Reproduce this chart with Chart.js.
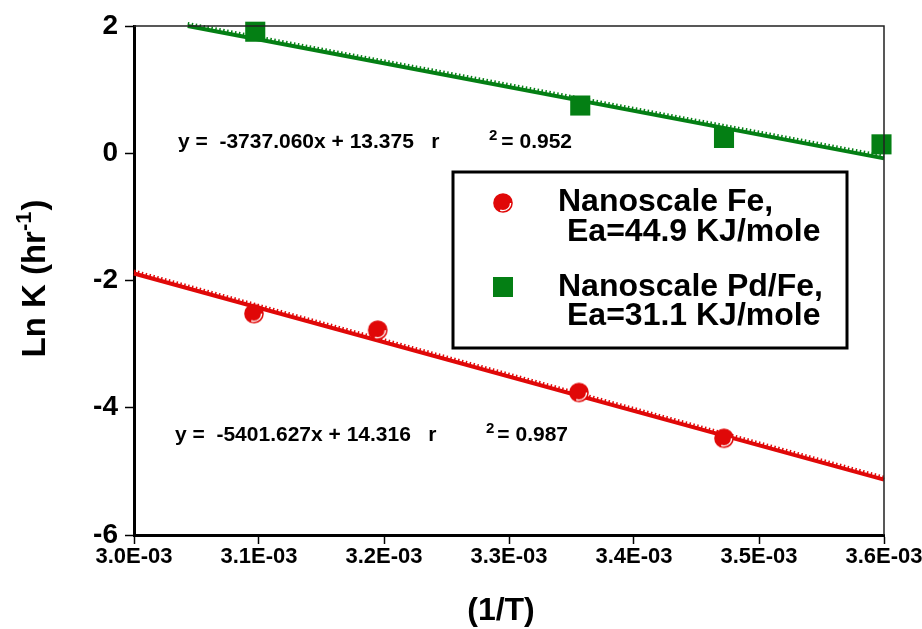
<!DOCTYPE html>
<html>
<head>
<meta charset="utf-8">
<script src="https://cdn.jsdelivr.net/npm/chart.js@4.4.1/dist/chart.umd.min.js"></script>
<style>
  html, body { margin: 0; padding: 0; background: #fff; }
  #wrap { width: 922px; height: 629px; }
</style>
</head>
<body>
<div id="wrap"><canvas id="arrhenius"></canvas></div>
<script>
// Arrhenius plot: ln k vs 1/T for nanoscale Fe and Pd/Fe
const seriesNames = ['Nanoscale Fe,', 'Nanoscale Pd/Fe,'];
const seriesNotes = ['Ea=44.9 KJ/mole', 'Ea=31.1 KJ/mole'];

const feX = [3.096e-3, 3.195e-3, 3.356e-3, 3.472e-3];
const feY = [-2.52, -2.78, -3.76, -4.48];
const pdX = [3.097e-3, 3.357e-3, 3.472e-3, 3.598e-3];
const pdY = [1.91, 0.75, 0.24, 0.14];

// fitted lines, end points
const feFitX = [3.0e-3, 3.6e-3];
const feFitY = [-1.89, -5.13];
const pdFitX = [3.043e-3, 3.6e-3];
const pdFitY = [2.0, -0.08];

const fitEquations = ['y =  -5401.627x + 14.316   r', 'y =  -3737.060x + 13.375   r'];
const fitR2 = ['= 0.987', '= 0.952'];

const xTickValues = [3.0e-3, 3.1e-3, 3.2e-3, 3.3e-3, 3.4e-3, 3.5e-3, 3.6e-3];
const xTickLabels = ['3.0E-03', '3.1E-03', '3.2E-03', '3.3E-03', '3.4E-03', '3.5E-03', '3.6E-03'];
const yTickValues = [-6, -4, -2, 0, 2];
const yTickLabels = ['-6', '-4', '-2', '0', '2'];

const xTitle = '(1/T)';
const yTitle = ['Ln K (hr', '-1', ')'];

const RED = '#e00808';
const GREEN = '#047f14';
const FONT = '"Liberation Sans", Arial, Helvetica, sans-serif';

const pts = (xs, ys) => xs.map((x, i) => ({ x: x, y: ys[i] }));

function makeDot(color) {
  const c = document.createElement('canvas');
  c.width = 22; c.height = 22;
  const g = c.getContext('2d');
  g.fillStyle = color;
  g.beginPath(); g.arc(11, 11, 9.8, 0, Math.PI * 2); g.fill();
  g.strokeStyle = '#fff'; g.lineWidth = 1.4;
  g.beginPath(); g.arc(11, 11, 7.6, 0.0 * Math.PI, 0.62 * Math.PI); g.stroke();
  return c;
}
const redDot = makeDot(RED);

// nudge the hatched overlay of each fit line up a little
const shiftPlugin = {
  id: 'shift',
  beforeDatasetDraw(chart, args) {
    const ds = chart.data.datasets[args.index];
    chart.ctx.save();
    if (ds.shiftUp) chart.ctx.translate(0, -ds.shiftUp);
  },
  afterDatasetDraw(chart) {
    chart.ctx.restore();
  }
};

const decorPlugin = {
  id: 'decor',
  afterDraw(chart) {
    const ctx = chart.ctx;
    const a = chart.chartArea;
    ctx.save();
    // thin top/right frame
    ctx.strokeStyle = '#222';
    ctx.lineWidth = 1.5;
    ctx.beginPath();
    ctx.moveTo(a.left, a.top);
    ctx.lineTo(a.right, a.top);
    ctx.lineTo(a.right, a.bottom);
    ctx.stroke();

    ctx.fillStyle = '#000';
    ctx.textBaseline = 'alphabetic';

    // fit equations
    const eqPos = [[175, 441, 486, 568], [178, 148, 489, 572]];
    fitEquations.forEach((t, i) => {
      const p = eqPos[i];
      ctx.font = 'bold 21px ' + FONT;
      ctx.textAlign = 'left';
      ctx.fillText(t, p[0], p[1]);
      ctx.textAlign = 'right';
      ctx.fillText(fitR2[i], p[3], p[1]);
      ctx.font = 'bold 15px ' + FONT;
      ctx.textAlign = 'left';
      ctx.fillText('2', p[2], p[1] - 8);
    });

    // legend box
    ctx.lineWidth = 3;
    ctx.strokeStyle = '#000';
    ctx.strokeRect(453, 172, 394, 176);
    ctx.drawImage(redDot, 503 - 11, 203 - 11);
    ctx.fillStyle = GREEN;
    ctx.fillRect(503 - 10, 287 - 10, 20, 20);
    ctx.fillStyle = '#000';
    ctx.font = 'bold 32px ' + FONT;
    ctx.textAlign = 'left';
    ctx.textBaseline = 'middle';
    ctx.fillText(seriesNames[0], 558, 202);
    ctx.fillText(seriesNotes[0], 567, 232);
    ctx.fillText(seriesNames[1], 558, 287);
    ctx.fillText(seriesNotes[1], 567, 316);

    // x title
    ctx.font = 'bold 32px ' + FONT;
    ctx.textAlign = 'center';
    ctx.fillText(xTitle, (a.left + a.right) / 2 - 8, 611);

    // y title, rotated, with superscript
    ctx.translate(36, 279);
    ctx.rotate(-Math.PI / 2);
    ctx.textAlign = 'left';
    ctx.font = 'bold 33px ' + FONT;
    const w0 = ctx.measureText(yTitle[0]).width;
    const w2 = ctx.measureText(yTitle[2]).width;
    ctx.font = 'bold 22px ' + FONT;
    const w1 = ctx.measureText(yTitle[1]).width;
    const x = -(w0 + w1 + w2) / 2;
    ctx.font = 'bold 33px ' + FONT;
    ctx.fillText(yTitle[0], x, 0);
    ctx.font = 'bold 22px ' + FONT;
    ctx.fillText(yTitle[1], x + w0, -11);
    ctx.font = 'bold 33px ' + FONT;
    ctx.fillText(yTitle[2], x + w0 + w1 + 1, 0);
    ctx.restore();
  }
};

new Chart(document.getElementById('arrhenius'), {
  type: 'scatter',
  data: {
    datasets: [
      { label: seriesNames[0], data: pts(feX, feY), pointStyle: redDot, pointRadius: 10, order: 0 },
      { label: seriesNames[1], data: pts(pdX, pdY), pointStyle: 'rect', pointRadius: 14.2,
        backgroundColor: GREEN, borderWidth: 0, pointBorderWidth: 0, order: 0 },
      { type: 'line', data: pts(feFitX, feFitY), borderColor: RED, borderWidth: 4, pointRadius: 0, order: 2 },
      { type: 'line', data: pts(feFitX, feFitY), borderColor: RED, borderWidth: 3, borderDash: [1.5, 2.5],
        pointRadius: 0, order: 1, shiftUp: 2.5 },
      { type: 'line', data: pts(pdFitX, pdFitY), borderColor: GREEN, borderWidth: 4, pointRadius: 0, order: 2 },
      { type: 'line', data: pts(pdFitX, pdFitY), borderColor: GREEN, borderWidth: 3, borderDash: [1.5, 2.5],
        pointRadius: 0, order: 1, shiftUp: 2.5 }
    ]
  },
  options: {
    responsive: true,
    maintainAspectRatio: false,
    animation: false,
    clip: false,
    layout: { padding: { left: 0, top: 26, right: 38, bottom: 0 } },
    scales: {
      x: {
        type: 'linear',
        min: 3.0e-3, max: 3.6e-3,
        afterBuildTicks: (s) => { s.ticks = xTickValues.map(v => ({ value: v })); },
        afterFit: (s) => { s.height = 94; s.paddingLeft = 0; s.paddingRight = 0; },
        ticks: {
          color: '#000', padding: 0, maxRotation: 0, autoSkip: false,
          font: { family: FONT, size: 22, weight: 'bold' },
          callback: (v, i) => xTickLabels[i]
        },
        grid: { drawOnChartArea: false, drawTicks: true, tickLength: 9, tickColor: '#000', tickWidth: 1.5 },
        border: { color: '#000', width: 3 }
      },
      y: {
        type: 'linear',
        min: -6, max: 2,
        afterBuildTicks: (s) => { s.ticks = yTickValues.map(v => ({ value: v })); },
        afterFit: (s) => { s.width = 134; s.paddingTop = 0; s.paddingBottom = 0; },
        ticks: {
          color: '#000', padding: 7,
          font: { family: FONT, size: 28, weight: 'bold' },
          callback: (v, i) => yTickLabels[i]
        },
        grid: { drawOnChartArea: false, drawTicks: true, tickLength: 9, tickColor: '#000', tickWidth: 1.5 },
        border: { color: '#000', width: 3 }
      }
    },
    plugins: {
      legend: { display: false },
      tooltip: { enabled: false }
    }
  },
  plugins: [shiftPlugin, decorPlugin]
});
</script>
</body>
</html>
